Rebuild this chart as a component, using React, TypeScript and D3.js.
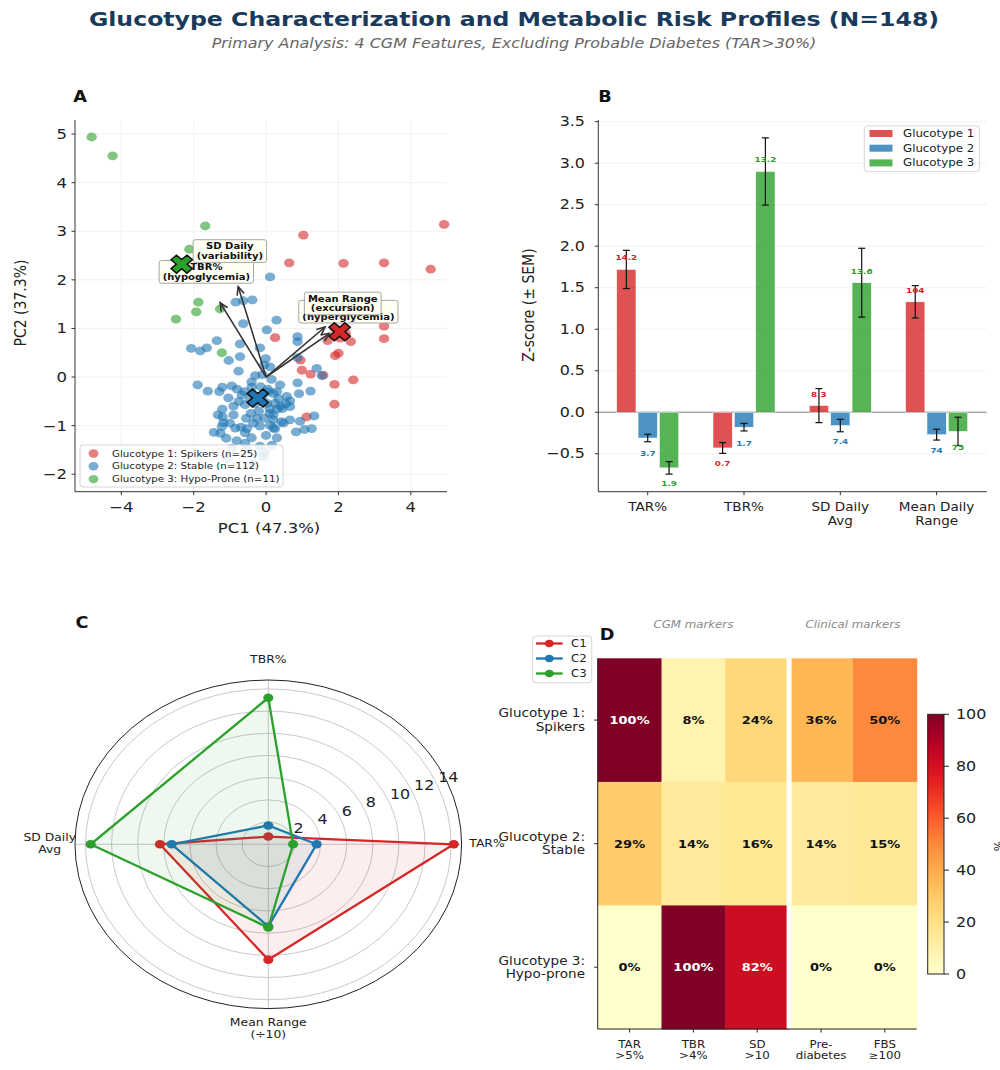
import * as d3 from 'd3';
import { useLayoutEffect, useRef, useState } from 'react';

// The reference figure is stretched horizontally, so text and round marks get this x-scale
const SX = 1.18;
const FONT = "'DejaVu Sans', sans-serif";
const COLORS = ['#d62728', '#1f77b4', '#2ca02c'];

// ---------- Panel A: PCA scatter ----------
const groupLabels = [
  'Glucotype 1: Spikers (n=25)',
  'Glucotype 2: Stable (n=112)',
  'Glucotype 3: Hypo-Prone (n=11)',
];

const g1Pts: [number, number][] = [
  [4.92, 3.14], [1.03, 2.92], [0.64, 2.35], [2.14, 2.34], [3.26, 2.35], [4.55, 2.22],
  [1.35, 1.21], [3.26, 1.05], [3.26, 0.79], [2.34, 0.73], [0.25, 0.81], [2.0, 0.49],
  [1.91, 0.44], [0.99, 0.14], [1.23, 0.06], [1.58, 0.04], [1.89, -0.15], [2.41, -0.06],
  [1.89, -0.56], [1.12, -0.82], [1.9, 1.0], [2.2, 0.9], [1.7, 0.75], [2.05, 0.8], [0.95, 0.35],
];

const g2Pts: [number, number][] = [
  [0.11, 2.06], [-0.84, 1.54], [-0.63, 1.57], [-0.38, 1.59], [0.29, 1.17], [-0.63, 1.1],
  [0.02, 0.97], [0.87, 0.83], [0.87, 0.73], [-1.36, 0.75], [-1.64, 0.6], [-2.07, 0.59],
  [-1.82, 0.54], [-0.72, 0.68], [-0.17, 0.6], [-1.03, 0.34], [-0.72, 0.42], [-0.01, 0.38],
  [0.87, 0.4], [0.11, 0.21], [-0.76, 0.12], [-0.3, 0.03], [-0.05, 0.25], [1.4, 0.18],
  [1.54, 0.03], [0.87, -0.12], [0.39, -0.16], [-1.89, -0.16], [-1.61, -0.29], [-1.29, -0.3],
  [-1.21, -0.21], [-0.95, -0.18], [-1.04, -0.43], [-0.67, -0.37], [-0.4, -0.21], [0.2, -0.34],
  [0.02, -0.54], [0.57, -0.4], [0.91, -0.34], [1.23, -0.29], [0.66, -0.49], [-0.9, -0.6],
  [-0.58, -0.57], [-1.21, -0.66], [-1.33, -0.78], [-0.9, -0.78], [-0.42, -0.75], [0.2, -0.78],
  [0.31, -0.66], [1.33, -0.8], [0.2, -0.88], [-0.17, -1.01], [0.11, -0.99], [0.48, -0.95],
  [0.66, -0.88], [0.94, -0.91], [-0.69, -1.03], [-1.44, -1.14], [-1.26, -1.16], [-0.58, -1.15],
  [-0.53, -1.06], [0.25, -1.06], [0.83, -1.13], [1.06, -1.08], [1.26, -1.06], [-1.1, -1.26],
  [-0.81, -1.31], [-0.58, -1.36], [0.16, -1.4], [-0.95, -1.47], [-0.53, -1.5], [-0.07, -1.64],
  [-1.09, -1.68], [-1.2, -0.82], [-0.4, -0.1], [-0.1, 0.05], [0.25, -0.54], [0.66, -0.61],
  [0.43, -0.92], [-1.22, -1.02], [-0.17, -1.42], [-1.18, -0.94], [-0.45, -0.45], [-0.3, -0.55],
  [-0.1, -0.4], [0.05, -0.3], [-0.2, -0.7], [0.1, -0.65], [-0.55, -0.85], [-0.75, -0.5],
  [0.35, -0.45], [0.1, -0.75], [-0.35, -0.95], [0.0, -1.2], [0.3, -1.25], [-0.85, -1.05],
  [0.45, -0.65], [-0.6, -0.3], [-0.15, -0.2], [0.15, -0.05], [0.05, -0.25], [-1.0, -0.95],
  [0.2, -1.05], [-0.4, -1.25], [-0.25, -0.85], [0.4, -0.6], [-0.05, -0.85], [0.55, -0.55],
  [-0.8, -0.25], [0.3, -0.3], [-0.35, -1.8], [-0.05, -1.55],
];

const g3Pts: [number, number][] = [
  [-4.82, 4.94], [-4.24, 4.55], [-1.68, 3.11], [-2.12, 2.63], [-1.87, 1.54], [-1.93, 1.34],
  [-1.27, 1.4], [-2.49, 1.19], [-1.22, 0.5], [-2.3, 2.25], [-1.7, 2.1],
];

// feature loading vectors (in PC units) and their two-line labels
const loadingNames = [
  ['TAR%', '(hyperglycemia)'],
  ['TBR%', '(hypoglycemia)'],
  ['SD Daily', '(variability)'],
  ['Mean Range', '(excursion)'],
];
const loadingTips: [number, number][] = [[1.75, 0.9], [-1.27, 1.53], [-0.77, 1.86], [1.63, 1.03]];

// ---------- Panel B: z-score bars ----------
const barFeatures = [['TAR%'], ['TBR%'], ['SD Daily', 'Avg'], ['Mean Daily', 'Range']];
const barGroups = ['Glucotype 1', 'Glucotype 2', 'Glucotype 3'];
const zMean = [
  [1.72, -0.43, 0.08, 1.33],
  [-0.31, -0.18, -0.16, -0.27],
  [-0.67, 2.9, 1.56, -0.23],
];
const zSem = [
  [0.23, 0.065, 0.205, 0.195],
  [0.045, 0.045, 0.075, 0.065],
  [0.075, 0.405, 0.415, 0.17],
];
// raw feature means, shown above the bars and used by the radar
const rawMean = [
  [14.2, 0.7, 8.3, 104],
  [3.7, 1.7, 7.4, 74],
  [1.9, 13.2, 13.6, 75],
];

// ---------- Panel C: radar ----------
const radarAxes = [['TAR%'], ['TBR%'], ['SD Daily', 'Avg'], ['Mean Range', '(÷10)']];
const radarDivisor = [1, 1, 1, 10];
const radarRings = [2, 4, 6, 8, 10, 12, 14];
const radarNames = ['C1', 'C2', 'C3'];

// ---------- Panel D: heatmap ----------
const heatRows = [['Glucotype 1:', 'Spikers'], ['Glucotype 2:', 'Stable'], ['Glucotype 3:', 'Hypo-prone']];
const heatCols = [['TAR', '>5%'], ['TBR', '>4%'], ['SD', '>10'], ['Pre-', 'diabetes'], ['FBS', '≥100']];
const heatVals = [
  [100, 8, 24, 36, 50],
  [29, 14, 16, 14, 15],
  [0, 100, 82, 0, 0],
];
const cbarTicks = [0, 20, 40, 60, 80, 100];

// text centred on (x, y), stretched like the reference
type TxtProps = {
  x: number; y: number; size: number; lines: string[];
  anchor?: string; weight?: string | number; fill?: string; italic?: boolean; rot?: number; lh?: number;
};
const Txt = ({ x, y, size, lines, anchor = 'middle', weight = 'normal', fill = '#222', italic = false, rot = 0, lh }: TxtProps) => {
  const step = lh ?? size * 1.2;
  return (
    <text
      transform={`translate(${x},${y}) scale(${SX},1)${rot ? ` rotate(${rot})` : ''}`}
      fontFamily={FONT}
      fontSize={size}
      textAnchor={anchor}
      fontWeight={weight}
      fontStyle={italic ? 'italic' : 'normal'}
      fill={fill}
    >
      {lines.map((l, i) => (
        <tspan key={i} x={0} y={(i - (lines.length - 1) / 2) * step} dy="0.35em">{l}</tspan>
      ))}
    </text>
  );
};

// boxed annotation sized to its text
const LabelBox = ({ x, y, lines }: { x: number; y: number; lines: string[] }) => {
  const ref = useRef<SVGTextElement | null>(null);
  const [bb, setBb] = useState<{ x: number; y: number; w: number; h: number } | null>(null);
  useLayoutEffect(() => {
    if (ref.current) {
      const b = ref.current.getBBox();
      setBb({ x: b.x, y: b.y, w: b.width, h: b.height });
    }
  }, []);
  return (
    <g transform={`translate(${x},${y}) scale(${SX},1)`}>
      {bb && (
        <rect x={bb.x - 3} y={bb.y - 1.5} width={bb.w + 6} height={bb.h + 3} rx={2}
          fill="#fffff2" fillOpacity={0.9} stroke="#999" strokeWidth={0.8} />
      )}
      <text ref={ref} fontFamily={FONT} fontSize={8.5} fontWeight="bold" textAnchor="middle" fill="#111">
        {lines.map((l, i) => (
          <tspan key={i} x={0} y={(i - (lines.length - 1) / 2) * 9.6} dy="0.35em">{l}</tspan>
        ))}
      </text>
    </g>
  );
};

const a = 0.17;
const PLUS = `M${-a},-0.5 L${a},-0.5 L${a},${-a} L0.5,${-a} L0.5,${a} L${a},${a} L${a},0.5 L${-a},0.5 L${-a},${a} L-0.5,${a} L-0.5,${-a} L${-a},${-a} Z`;

const PanelA = () => {
  const L = 75, R = 447, T = 120, B = 491.7;
  const x = d3.scaleLinear().domain([-5.28, 5.0]).range([L, R]);
  const y = d3.scaleLinear().domain([-2.36, 5.29]).range([B, T]);
  const groups = [g1Pts, g2Pts, g3Pts];
  const ox = x(0), oy = y(0);
  const fmt = d3.format('d');
  return (
    <g>
      {x.ticks(5).map((t) => <line key={'gx' + t} x1={x(t)} x2={x(t)} y1={T} y2={B} stroke="#eee" strokeWidth={0.8} />)}
      {y.ticks(8).map((t) => <line key={'gy' + t} x1={L} x2={R} y1={y(t)} y2={y(t)} stroke="#eee" strokeWidth={0.8} />)}
      {groups.map((pts, gi) =>
        pts.map((p, i) => (
          <ellipse key={gi + '-' + i} cx={x(p[0])} cy={y(p[1])} rx={4.4 * SX} ry={4.4} fill={COLORS[gi]} fillOpacity={0.6} />
        ))
      )}
      {loadingTips.map((tp, i) => {
        const x1 = x(tp[0]), y1 = y(tp[1]);
        const ang = Math.atan2(y1 - oy, x1 - ox);
        const h = 9, w = 0.42;
        return (
          <g key={'ar' + i} stroke="#333" strokeWidth={1.6} fill="none">
            <line x1={ox} y1={oy} x2={x1} y2={y1} />
            <polyline points={`${x1 - h * Math.cos(ang - w)},${y1 - h * Math.sin(ang - w)} ${x1},${y1} ${x1 - h * Math.cos(ang + w)},${y1 - h * Math.sin(ang + w)}`} />
          </g>
        );
      })}
      {loadingTips.map((tp, i) => (
        <LabelBox key={'lb' + i} x={x(tp[0] * 1.3)} y={y(tp[1] * 1.3 + 0.17)} lines={loadingNames[i]} />
      ))}
      {groups.map((pts, gi) => {
        const cx = x(d3.mean(pts, (p) => p[0]) ?? 0);
        const cy = y(d3.mean(pts, (p) => p[1]) ?? 0);
        return (
          <path key={'c' + gi} d={PLUS} transform={`translate(${cx},${cy}) scale(${SX},1) rotate(45) scale(19)`}
            fill={COLORS[gi]} stroke="#111" strokeWidth={1.5} vectorEffect="non-scaling-stroke" />
        );
      })}
      <line x1={L} x2={L} y1={T} y2={B} stroke="#333" />
      <line x1={L} x2={R} y1={B} y2={B} stroke="#333" />
      {x.ticks(5).map((t) => (
        <g key={'tx' + t}>
          <line x1={x(t)} x2={x(t)} y1={B} y2={B + 3.5} stroke="#333" />
          <Txt x={x(t)} y={507} size={14} lines={[fmt(t)]} />
        </g>
      ))}
      {y.ticks(8).map((t) => (
        <g key={'ty' + t}>
          <line x1={L - 3.5} x2={L} y1={y(t)} y2={y(t)} stroke="#333" />
          <Txt x={67} y={y(t)} size={14} anchor="end" lines={[fmt(t)]} />
        </g>
      ))}
      <Txt x={269} y={528} size={14} lines={['PC1 (47.3%)']} />
      <Txt x={20} y={303} size={14} rot={-90} lines={['PC2 (37.3%)']} />
      <rect x={80} y={445} width={203} height={42} rx={3} fill="#fff" fillOpacity={0.85} stroke="#ccc" strokeWidth={0.8} />
      {groupLabels.map((g, i) => (
        <g key={'lg' + i}>
          <ellipse cx={93.5} cy={453.5 + i * 12.8} rx={4.2 * SX} ry={4.2} fill={COLORS[i]} fillOpacity={0.6} />
          <Txt x={112} y={453.5 + i * 12.8} size={8.7} anchor="start" lines={[g]} />
        </g>
      ))}
    </g>
  );
};

const PanelB = () => {
  const L = 598.3, R = 986.7, T = 120, B = 491.7;
  const x = d3.scaleLinear().domain([-0.513, 3.52]).range([L, R]);
  const y = d3.scaleLinear().domain([-0.957, 3.52]).range([B, T]);
  const off = 0.222, bw = 0.2;
  const fmt = d3.format('.1f');
  return (
    <g>
      {y.ticks(9).map((t) => <line key={'g' + t} x1={L} x2={R} y1={y(t)} y2={y(t)} stroke="#eee" strokeWidth={0.8} />)}
      <line x1={L} x2={R} y1={y(0)} y2={y(0)} stroke="#777" strokeWidth={0.9} />
      {zMean.map((row, gi) =>
        row.map((m, fi) => {
          const cx = x(fi + (gi - 1) * off);
          const s = zSem[gi][fi];
          const v = rawMean[gi][fi];
          return (
            <g key={gi + '-' + fi}>
              <rect x={cx - (x(bw) - x(0)) / 2} width={x(bw) - x(0)} y={y(Math.max(0, m))} height={Math.abs(y(m) - y(0))}
                fill={COLORS[gi]} fillOpacity={0.8} stroke="#fff" strokeWidth={0.5} />
              <g stroke="#111" strokeWidth={1.2}>
                <line x1={cx} x2={cx} y1={y(m - s)} y2={y(m + s)} />
                <line x1={cx - 3.5} x2={cx + 3.5} y1={y(m - s)} y2={y(m - s)} />
                <line x1={cx - 3.5} x2={cx + 3.5} y1={y(m + s)} y2={y(m + s)} />
              </g>
              <Txt x={cx} y={y(m >= 0 ? m + 0.14 : m - 0.19)} size={7.5} weight="bold" fill={COLORS[gi]}
                lines={[v >= 50 ? d3.format('.0f')(v) : d3.format('.1f')(v)]} />
            </g>
          );
        })
      )}
      <line x1={L} x2={L} y1={T} y2={B} stroke="#333" />
      <line x1={L} x2={R} y1={B} y2={B} stroke="#333" />
      {y.ticks(9).map((t) => (
        <g key={'ty' + t}>
          <line x1={L - 3.5} x2={L} y1={y(t)} y2={y(t)} stroke="#333" />
          <Txt x={585} y={y(t)} size={13.5} anchor="end" lines={[fmt(t)]} />
        </g>
      ))}
      {barFeatures.map((f, i) => (
        <g key={'tx' + i}>
          <line x1={x(i)} x2={x(i)} y1={B} y2={B + 3.5} stroke="#333" />
          <Txt x={x(i)} y={506.7 + (f.length - 1) * 7} size={11.5} lh={14} lines={f} />
        </g>
      ))}
      <Txt x={528} y={305} size={14} rot={-90} lines={['Z-score (± SEM)']} />
      <rect x={864.3} y={126} width={115} height={45.7} rx={3} fill="#fff" fillOpacity={0.85} stroke="#ccc" strokeWidth={0.8} />
      {barGroups.map((g, i) => (
        <g key={'lg' + i}>
          <rect x={869.5} y={133.5 + i * 14.7 - 3.5} width={23} height={7} fill={COLORS[i]} fillOpacity={0.8} />
          <Txt x={903} y={133.5 + i * 14.7} size={10} anchor="start" lines={[g]} />
        </g>
      ))}
    </g>
  );
};

const PanelC = () => {
  const cx = 268.3, cy = 844.3, RX = 193.3, RY = 164.3, RMAX = 14.8;
  const r = d3.scaleLinear().domain([0, RMAX]).range([0, 1]);
  const angles = radarAxes.map((_, i) => (i * Math.PI) / 2);
  const pt = (v: number, ang: number): [number, number] => [cx + r(v) * RX * Math.cos(ang), cy - r(v) * RY * Math.sin(ang)];
  const line = d3.line().curve(d3.curveLinearClosed);
  const labelPos: [number, number][] = [[487, 843.3], [268.3, 659], [49.7, 843.5], [268.3, 1028]];
  const rl = (22.5 * Math.PI) / 180;
  return (
    <g>
      {radarRings.map((v) => (
        <ellipse key={'r' + v} cx={cx} cy={cy} rx={r(v) * RX} ry={r(v) * RY} fill="none" stroke="#bbb" strokeWidth={0.8} />
      ))}
      {angles.map((ang, i) => {
        const [x2, y2] = pt(RMAX, ang);
        return <line key={'s' + i} x1={cx} y1={cy} x2={x2} y2={y2} stroke="#bbb" strokeWidth={0.8} />;
      })}
      <ellipse cx={cx} cy={cy} rx={RX} ry={RY} fill="none" stroke="#222" strokeWidth={1} />
      {rawMean.map((row, gi) => {
        const pts = row.map((v, i) => pt(v / radarDivisor[i], angles[i]));
        return (
          <g key={'p' + gi}>
            <path d={line(pts) ?? ''} fill={COLORS[gi]} fillOpacity={0.08} stroke={COLORS[gi]} strokeWidth={2.3} />
            {pts.map((p, i) => <ellipse key={i} cx={p[0]} cy={p[1]} rx={4.3 * SX} ry={4.3} fill={COLORS[gi]} />)}
          </g>
        );
      })}
      {radarRings.map((v) => (
        <Txt key={'rl' + v} x={cx + r(v) * RX * Math.cos(rl) + 1} y={cy - r(v) * RY * Math.sin(rl) - 8} size={13.5} anchor="start" lines={[String(v)]} />
      ))}
      {radarAxes.map((l, i) => (
        <Txt key={'ax' + i} x={labelPos[i][0]} y={labelPos[i][1]} size={10.5} lh={11.8} lines={l} />
      ))}
      <rect x={532.7} y={636} width={59} height={46.7} rx={3} fill="#fff" fillOpacity={0.85} stroke="#ccc" strokeWidth={0.8} />
      {radarNames.map((n, i) => (
        <g key={'lg' + i}>
          <line x1={536} x2={562.7} y1={643.5 + i * 15} y2={643.5 + i * 15} stroke={COLORS[i]} strokeWidth={2.3} />
          <ellipse cx={549.3} cy={643.5 + i * 15} rx={3.8 * SX} ry={3.8} fill={COLORS[i]} />
          <Txt x={571} y={643.5 + i * 15} size={10} anchor="start" lines={[n]} />
        </g>
      ))}
    </g>
  );
};

const PanelD = () => {
  const L = 597.7, R = 916.7, T = 658.3, B = 1029;
  const x = d3.scaleBand<number>().domain(d3.range(heatCols.length)).range([L, R]);
  const y = d3.scaleBand<number>().domain(d3.range(heatRows.length)).range([T, B]);
  const color = (v: number) => d3.interpolateYlOrRd(v / 100);
  const cb = d3.scaleLinear().domain([0, 100]).range([974, 714.3]);
  const bw = x.bandwidth();
  const sep = (x(2) ?? 0) + bw;
  const stops = d3.range(0, 1.001, 0.05);
  return (
    <g>
      <defs>
        <linearGradient id="cbar" x1="0" y1="1" x2="0" y2="0">
          {stops.map((s) => <stop key={s} offset={s} stopColor={d3.interpolateYlOrRd(s)} />)}
        </linearGradient>
      </defs>
      {heatVals.map((row, ri) =>
        row.map((v, ci) => (
          <g key={ri + '-' + ci}>
            <rect x={x(ci)} y={y(ri)} width={bw + 0.5} height={y.bandwidth() + 0.5} fill={color(v)} />
            <Txt x={(x(ci) ?? 0) + bw / 2} y={(y(ri) ?? 0) + y.bandwidth() / 2} size={11} weight="bold"
              fill={v >= 60 ? '#fff' : '#111'} lines={[`${v}%`]} />
          </g>
        ))
      )}
      <line x1={sep} x2={sep} y1={T} y2={B} stroke="#fff" strokeWidth={5} />
      <line x1={L} x2={L} y1={T} y2={B} stroke="#222" />
      <line x1={L} x2={R} y1={B} y2={B} stroke="#222" />
      {heatRows.map((l, i) => {
        const cy = (y(i) ?? 0) + y.bandwidth() / 2;
        return (
          <g key={'ry' + i}>
            <line x1={L - 3.5} x2={L} y1={cy} y2={cy} stroke="#222" />
            <Txt x={585} y={cy} size={11.5} anchor="end" lh={13.3} lines={l} />
          </g>
        );
      })}
      {heatCols.map((l, i) => {
        const cx = (x(i) ?? 0) + bw / 2;
        return (
          <g key={'cx' + i}>
            <line x1={cx} x2={cx} y1={B} y2={B + 3.5} stroke="#222" />
            <Txt x={cx} y={1049.5} size={10} lh={11} lines={l} />
          </g>
        );
      })}
      <Txt x={(x(1) ?? 0) + bw / 2} y={624} size={10} italic fill="#888" lines={['CGM markers']} />
      <Txt x={x(4) ?? 0} y={624} size={10} italic fill="#888" lines={['Clinical markers']} />
      <rect x={927.7} y={714.3} width={16.3} height={259.7} fill="url(#cbar)" stroke="#222" strokeWidth={1} />
      {cbarTicks.map((t) => (
        <g key={'cb' + t}>
          <line x1={944} x2={949} y1={cb(t)} y2={cb(t)} stroke="#222" />
          <Txt x={956} y={cb(t)} size={13.5} anchor="start" lines={[String(t)]} />
        </g>
      ))}
      <Txt x={998} y={846} size={11} rot={-90} lines={['%']} />
    </g>
  );
};

export default function App() {
  return (
    <div style={{ position: 'absolute', left: 0, top: 0 }}>
      <svg width={1000} height={1070} style={{ display: 'block', background: '#fff' }}>
        <Txt x={514} y={19} size={20} weight="bold" fill="#1a3a5c"
          lines={['Glucotype Characterization and Metabolic Risk Profiles (N=148)']} />
        <Txt x={514} y={43} size={13.5} italic fill="#666"
          lines={['Primary Analysis: 4 CGM Features, Excluding Probable Diabetes (TAR>30%)']} />
        <PanelA />
        <PanelB />
        <PanelD />
        <PanelC />
        <Txt x={80} y={97} size={15} weight="bold" fill="#111" lines={['A']} />
        <Txt x={605} y={97} size={15} weight="bold" fill="#111" lines={['B']} />
        <Txt x={82} y={623} size={15} weight="bold" fill="#111" lines={['C']} />
        <Txt x={607} y={635} size={15} weight="bold" fill="#111" lines={['D']} />
      </svg>
    </div>
  );
}
